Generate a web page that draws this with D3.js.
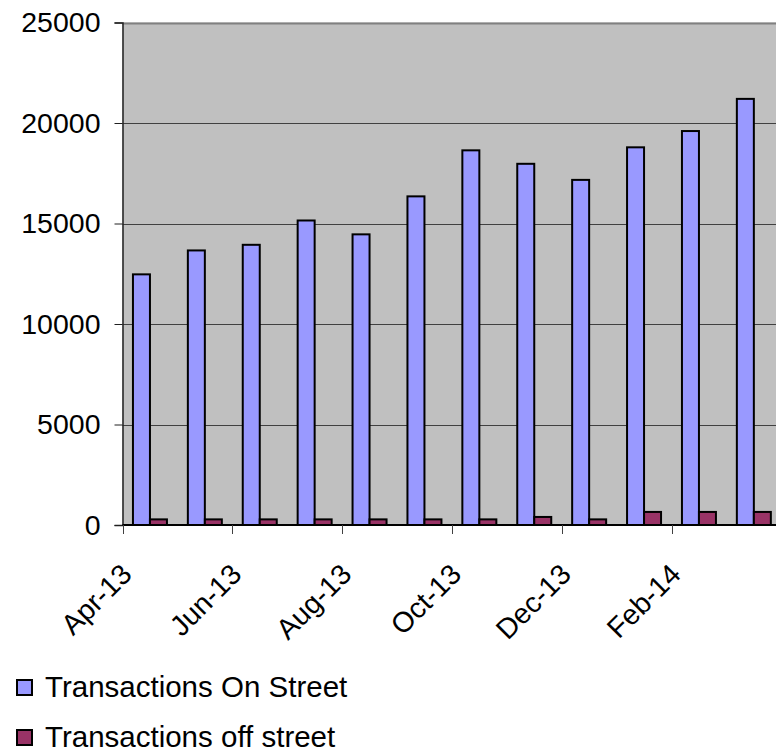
<!DOCTYPE html>
<html>
<head>
<meta charset="utf-8">
<script src="https://cdn.jsdelivr.net/npm/d3@7"></script>
<style>
  body { margin: 0; background: #fff; }
  svg { display: block; font-family: "Liberation Sans", Arial, sans-serif; }
</style>
</head>
<body>
<script>
var months = ["Apr-13", "May-13", "Jun-13", "Jul-13", "Aug-13", "Sep-13",
              "Oct-13", "Nov-13", "Dec-13", "Jan-14", "Feb-14", "Mar-14"];
var onStreet = [12470, 13660, 13940, 15150, 14460, 16350,
                18640, 17970, 17170, 18790, 19600, 21200];
var offStreet = [280, 280, 280, 280, 280, 280, 280, 400, 280, 650, 650, 650];
var yTicks = [0, 5000, 10000, 15000, 20000, 25000];
var labelledMonths = ["Apr-13", "Jun-13", "Aug-13", "Oct-13", "Dec-13", "Feb-14"];
var seriesNames = ["Transactions On Street", "Transactions off street"];
var seriesKeys = ["on", "off"];
var colors = ["#9999ff", "#993366"];

var width = 776,
    height = 754;

var plotLeft = 122.5, plotBottom = 525, plotTop = 22.5, step = 54.9;

var svg = d3.select("body").append("svg")
    .attr("width", width)
    .attr("height", height);

var x = d3.scaleBand()
    .domain(months)
    .range([plotLeft, plotLeft + step * months.length]);

var xSub = d3.scaleBand()
    .domain(seriesKeys)
    .range([0, x.bandwidth()])
    .paddingOuter(0.615);

var y = d3.scaleLinear()
    .domain([0, 25000])
    .range([plotBottom, plotTop]);

// plot area
svg.append("rect")
    .attr("x", plotLeft)
    .attr("y", plotTop)
    .attr("width", x.range()[1] - plotLeft)
    .attr("height", plotBottom - plotTop)
    .attr("fill", "#c0c0c0");

// gridlines
svg.append("g")
  .selectAll("line")
  .data(yTicks.slice(1))
  .enter().append("line")
    .attr("x1", plotLeft)
    .attr("x2", x.range()[1])
    .attr("y1", function(d) { return Math.round(y(d)) + 0.5; })
    .attr("y2", function(d) { return Math.round(y(d)) + 0.5; })
    .attr("stroke", function(d) { return d === 25000 ? "#808080" : "#404040"; })
    .attr("stroke-width", function(d) { return d === 25000 ? 2 : 1; });

// bars
var data = months.map(function(m, i) {
  return {month: m, on: onStreet[i], off: offStreet[i]};
});

var groups = svg.append("g")
  .selectAll("g")
  .data(data)
  .enter().append("g")
    .attr("transform", function(d) { return "translate(" + x(d.month) + ",0)"; });

groups.selectAll("rect")
  .data(function(d) { return seriesKeys.map(function(k, i) { return {key: k, value: d[k], color: colors[i]}; }); })
  .enter().append("rect")
    .attr("x", function(d) { return xSub(d.key); })
    .attr("y", function(d) { return y(d.value); })
    .attr("width", xSub.bandwidth())
    .attr("height", function(d) { return plotBottom - y(d.value); })
    .attr("fill", function(d) { return d.color; })
    .attr("stroke", "#000")
    .attr("stroke-width", 2);

// y axis
var yAxis = svg.append("g")
    .attr("transform", "translate(" + plotLeft + ",0)")
    .call(d3.axisLeft(y).tickValues(yTicks).tickSize(8).tickPadding(14).tickFormat(d3.format("d")));
yAxis.select(".domain").attr("stroke", "#202020").attr("stroke-width", 1.5);
yAxis.selectAll(".tick line").attr("stroke", "#202020");
yAxis.selectAll("text")
    .attr("font-size", 28.5)
    .attr("fill", "#000")
    .attr("font-family", "Liberation Sans, Arial, sans-serif");

// x axis
var xAxis = svg.append("g")
    .attr("transform", "translate(0," + plotBottom + ")");
xAxis.append("line")
    .attr("x1", plotLeft)
    .attr("x2", x.range()[1])
    .attr("stroke", "#000")
    .attr("stroke-width", 2);
xAxis.selectAll(".xtick")
  .data(labelledMonths)
  .enter().append("line")
    .attr("class", "xtick")
    .attr("x1", function(d) { return Math.round(x(d)) + 0.5; })
    .attr("x2", function(d) { return Math.round(x(d)) + 0.5; })
    .attr("y1", 0)
    .attr("y2", 9)
    .attr("stroke", "#404040");
xAxis.selectAll(".xlabel")
  .data(labelledMonths)
  .enter().append("text")
    .attr("class", "xlabel")
    .attr("text-anchor", "end")
    .attr("font-size", 28.5)
    .attr("transform", function(d) {
      return "translate(" + (x(d) + 11) + ",51) rotate(-45)";
    })
    .text(function(d) { return d; });

// legend
var legend = svg.append("g")
  .selectAll("g")
  .data(seriesNames)
  .enter().append("g")
    .attr("transform", function(d, i) { return "translate(16," + (696.5 + i * 50) + ")"; });

legend.append("rect")
    .attr("x", 1)
    .attr("y", -16.5)
    .attr("width", 15)
    .attr("height", 15)
    .attr("fill", function(d, i) { return colors[i]; })
    .attr("stroke", "#000")
    .attr("stroke-width", 2);

legend.append("text")
    .attr("x", 29)
    .attr("font-size", 29.5)
    .text(function(d) { return d; });
</script>
</body>
</html>
